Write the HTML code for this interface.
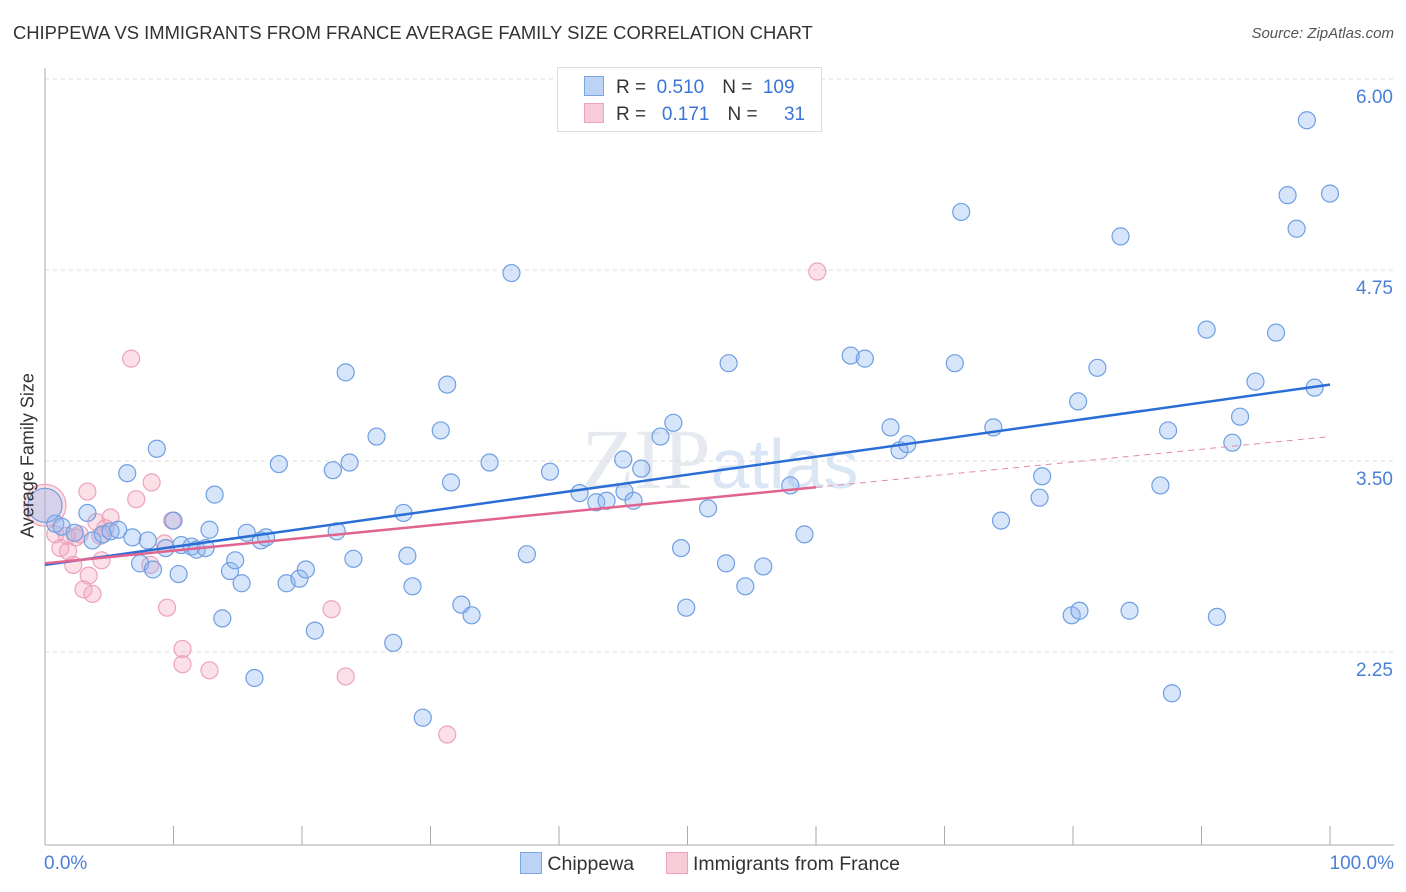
<!DOCTYPE html>
<html><head><meta charset="utf-8">
<style>
body{margin:0;background:#fff;font-family:"Liberation Sans",sans-serif;}
#wrap{position:relative;width:1406px;height:892px;overflow:hidden;}
.t{position:absolute;white-space:nowrap;}
</style></head>
<body>
<div id="wrap">
<div class="t" style="left:13px;top:22px;font-size:18.4px;color:#333;">CHIPPEWA VS IMMIGRANTS FROM FRANCE AVERAGE FAMILY SIZE CORRELATION CHART</div>
<div class="t" style="right:12px;top:25px;font-size:15px;color:#555;font-style:italic;">Source: ZipAtlas.com</div>
<svg id="chart" width="1406" height="892" style="position:absolute;left:0;top:0"></svg>
</div>
<script>
const blueX=[0.8,1.3,2.3,3.3,3.7,4.5,5.1,5.7,6.4,6.8,7.4,8.0,8.4,8.7,9.4,10.0,10.4,10.6,11.4,11.8,12.5,12.8,13.2,13.8,14.4,14.8,15.3,15.7,16.3,16.8,17.2,18.2,18.8,19.8,20.3,21.0,22.4,22.7,23.4,23.7,24.0,25.8,27.1,27.9,28.2,28.6,29.4,30.8,31.3,31.6,32.4,33.2,34.6,36.3,37.5,39.3,41.6,42.9,43.7,45.0,45.1,45.8,46.4,47.9,48.9,49.5,49.9,51.6,53.0,53.2,54.5,55.9,58.0,59.1,62.7,63.8,65.8,66.5,67.1,70.8,71.3,73.8,74.4,77.4,77.6,79.9,80.5,80.4,81.9,83.7,84.4,86.8,87.4,87.7,90.4,91.2,92.4,93.0,94.2,95.8,96.7,97.4,98.2,98.8,100.0,0];
const blueY=[3.09,3.07,3.03,3.16,2.98,3.02,3.04,3.05,3.42,3.00,2.83,2.98,2.79,3.58,2.93,3.11,2.76,2.95,2.94,2.92,2.93,3.05,3.28,2.47,2.78,2.85,2.70,3.03,2.08,2.98,3.00,3.48,2.70,2.73,2.79,2.39,3.44,3.04,4.08,3.49,2.86,3.66,2.31,3.16,2.88,2.68,1.82,3.70,4.00,3.36,2.56,2.49,3.49,4.73,2.89,3.43,3.29,3.23,3.24,3.51,3.30,3.24,3.45,3.66,3.75,2.93,2.54,3.19,2.83,4.14,2.68,2.81,3.34,3.02,4.19,4.17,3.72,3.57,3.61,4.14,5.13,3.72,3.11,3.26,3.40,2.49,2.52,3.89,4.11,4.97,2.52,3.34,3.70,1.98,4.36,2.48,3.62,3.79,4.02,4.34,5.24,5.02,5.73,3.98,5.25,3.21];
const blueR=[];for(let i=0;i<blueX.length;i++)blueR.push(i===blueX.length-1?17:8.5);
const pinkX=[0,0.8,1.2,1.8,2.2,2.7,3.0,3.3,3.4,3.7,4.0,4.4,4.7,5.1,7.1,8.2,8.3,9.3,9.5,9.9,10.7,10.7,12.8,6.7,22.3,23.4,31.3,60.1,1.7,4.3,2.4];
const pinkY=[3.21,3.02,2.93,2.91,2.82,3.02,2.66,3.30,2.75,2.63,3.10,2.85,3.06,3.13,3.25,2.82,3.36,2.96,2.54,3.11,2.27,2.17,2.13,4.17,2.53,2.09,1.71,4.74,3.01,3.01,3.00];
const blueTrend=[2.82,4.00];
const pinkTrend=[2.83,3.66];
const yTicks=[6.00,4.75,3.50,2.25];
const yTickLabels=["6.00","4.75","3.50","2.25"];
const xTicks=[0,10,20,30,40,50,60,70,80,90,100];

const X=v=>45+v*12.85;
const Y=v=>79+(6-v)*152.8;
const svg=document.getElementById('chart');
const NS='http://www.w3.org/2000/svg';
function mk(tag,at){const e=document.createElementNS(NS,tag);for(const k in at)e.setAttribute(k,at[k]);svg.appendChild(e);return e;}
let wm=mk('text',{x:720,y:488,'text-anchor':'middle','font-size':86,fill:'#e6e9ef','font-family':'Liberation Serif'});


wm.innerHTML='ZIP<tspan font-family="Liberation Sans" font-size="70" fill="#dbe6f5">atlas</tspan>';
yTicks.forEach((v,i)=>{
 const g=mk('line',{x1:45,x2:1394,y1:Y(v),y2:Y(v),stroke:'#dcdcdc','stroke-dasharray':'4,4'});
 
 
 const t=mk('text',{x:1393,y:Y(v)+24,'text-anchor':'end','font-size':19,fill:'#4a7fd6'});
 
 
 t.textContent=yTickLabels[i];
});
let ax=mk('line',{x1:45,x2:45,y1:68,y2:845,stroke:'#aaa'});


let bx=mk('line',{x1:45,x2:1394,y1:845,y2:845,stroke:'#aaa'});


xTicks.forEach(v=>{const l=mk('line',{x1:X(v),x2:X(v),y1:826,y2:845,stroke:'#aaa'});
 
 });
function pts(xs,ys,fill,stroke,name,rs){xs.forEach((x,i)=>{const c=mk('circle',{cx:X(x),cy:Y(ys[i]),r:rs?rs[i]:8.5,fill:fill,stroke:stroke,'stroke-width':1.2});
 
 });}
const pinkR=pinkX.map((x,i)=>i===0?21:8.5);
pts(pinkX,pinkY,'rgba(245,165,190,0.35)','#eca3bb','immigrants-france-point',pinkR);
pts(blueX,blueY,'rgba(140,180,240,0.35)','#6f9fe2','chippewa-point',blueR);
let bl=mk('line',{x1:X(0),y1:Y(blueTrend[0]),x2:X(100),y2:Y(blueTrend[1]),stroke:'#2a6dd6','stroke-width':2.5});


const pAt=v=>pinkTrend[0]+(pinkTrend[1]-pinkTrend[0])*v/100;
let pl=mk('line',{x1:X(0),y1:Y(pAt(0)),x2:X(60),y2:Y(pAt(60)),stroke:'#e0648e','stroke-width':2.5});


let pd=mk('line',{x1:X(60),y1:Y(pAt(60)),x2:X(100),y2:Y(pAt(100)),stroke:'#e58aa8','stroke-width':1,'stroke-dasharray':'6,5'});


</script>
<div class="t" style="left:-62px;top:445px;font-size:18px;color:#333;transform:rotate(-90deg);width:180px;text-align:center;">Average Family Size</div>
<div class="t" style="left:44px;top:853px;font-size:19px;color:#4a7fd6;">0.0%</div>
<div class="t" style="right:12px;top:853px;font-size:19px;color:#4a7fd6;">100.0%</div>
<div style="position:absolute;left:557px;top:67px;width:263px;height:63px;border:1px solid #ddd;background:#fff;font-size:19px;color:#333;">
 <div style="position:absolute;left:26px;top:8px;white-space:nowrap;"><span style="display:inline-block;width:18px;height:18px;background:#bcd3f5;border:1px solid #7aa6e6;vertical-align:-3px;"></span><span style="margin-left:12px">R = </span><span style="color:#3a74d6">&nbsp;0.510</span><span style="margin-left:18px">N = </span><span style="color:#3a74d6">&nbsp;109</span></div>
 <div style="position:absolute;left:26px;top:35px;white-space:nowrap;"><span style="display:inline-block;width:18px;height:18px;background:#f8cbd8;border:1px solid #eca3bb;vertical-align:-3px;"></span><span style="margin-left:12px">R = </span><span style="color:#3a74d6">&nbsp;&nbsp;0.171</span><span style="margin-left:18px">N = </span><span style="color:#3a74d6">&nbsp;&nbsp;&nbsp;&nbsp;31</span></div>
</div>
<div style="position:absolute;left:520px;top:852px;font-size:19.5px;color:#333;white-space:nowrap;">
 <span><span style="display:inline-block;width:20px;height:20px;background:#bcd3f5;border:1px solid #7aa6e6;vertical-align:-4px;"></span> Chippewa</span>
 <span style="margin-left:26px"><span style="display:inline-block;width:20px;height:20px;background:#f8cbd8;border:1px solid #eca3bb;vertical-align:-4px;"></span> Immigrants from France</span>
</div>
</body></html>
